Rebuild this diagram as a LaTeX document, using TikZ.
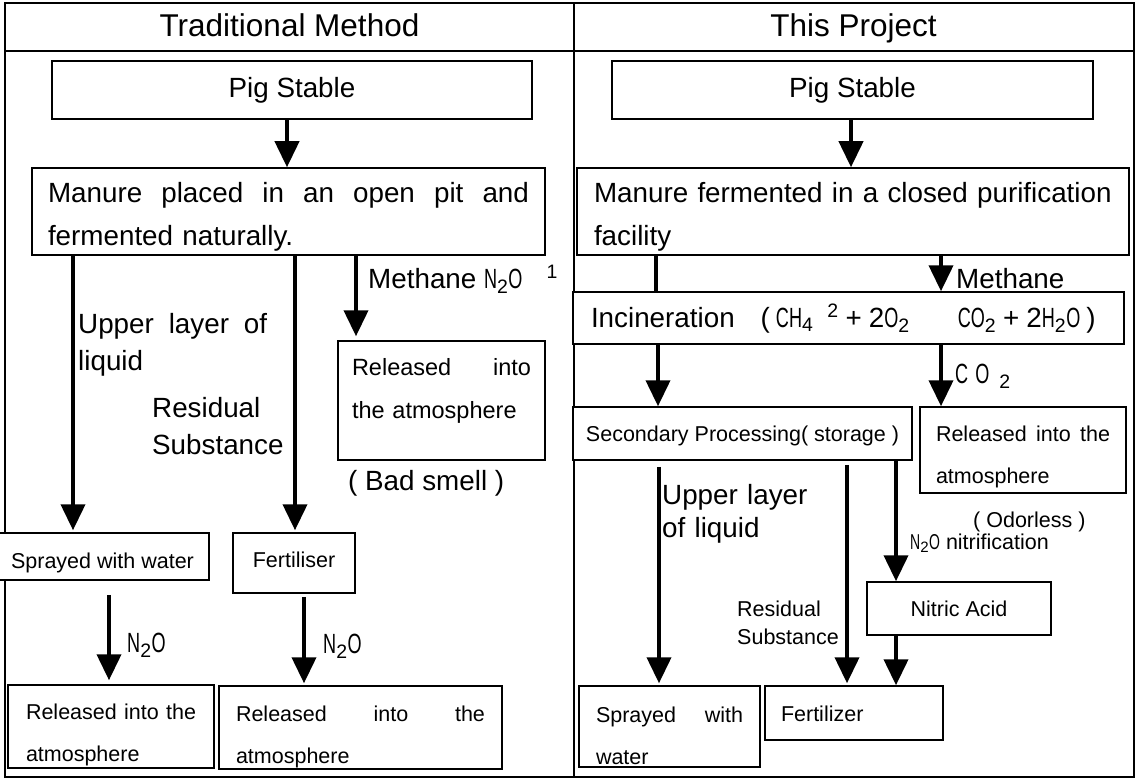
\documentclass[tikz,border=0pt]{standalone}
\usepackage{fontspec}
\setmainfont{Liberation Sans}
\usetikzlibrary{arrows.meta}
\newcommand{\chem}[1]{\scalebox{0.65}[1]{#1}}

\begin{document}
\begin{tikzpicture}[x=1pt, y=-1pt,
  box/.style={rectangle, draw, fill=white, line width=1.5pt, inner sep=0pt},
  lbl/.style={inner sep=0pt, anchor=base west},
  bigfont/.style={font=\fontsize{27.8}{#1}\selectfont}, bigfont/.default=43,
  midfont/.style={font=\fontsize{23.5}{#1}\selectfont}, midfont/.default=43,
  smallfont/.style={font=\fontsize{21.5}{#1}\selectfont}, smallfont/.default=42,
  tb/.style 2 args={text height=#1pt, text depth=#2pt},
  arr/.style={line width=4pt, -{Triangle[width=24pt, length=26pt]}},
  lin/.style={line width=4pt}]
  \useasboundingbox (0, 0) rectangle (1137, 778);

  \draw[line width=2pt] (5, 3) rectangle (1134, 777);
  \draw[line width=2pt] (5, 51) -- (1134, 51);
  \draw[line width=2pt] (574, 3) -- (574, 777);
  \node (lhead) [inner sep=0pt, anchor=base, font=\fontsize{31.5}{38}\selectfont] at (289.5, 37) {Traditional Method};
  \node (rhead) [inner sep=0pt, anchor=base, font=\fontsize{31.5}{38}\selectfont] at (853.5, 37) {This Project};

  \node (lstable) [box, bigfont, tb={18}{2}, minimum width=480pt, minimum height=58pt] at (292, 90) {Pig Stable};
  \node (lmanure) [box, bigfont, tb={5}{22}, minimum width=513pt, minimum height=87pt, text width=481pt, align=left] at (288.5, 211.5) {Manure\hfill placed\hfill in\hfill an\hfill open\hfill pit\hfill and\\fermented naturally.};
  \node (lair) [box, midfont, tb={5}{56}, minimum width=207pt, minimum height=119pt, text width=179pt, align=left] at (441.5, 400.5) {Released\hfill into\\the atmosphere};
  \node (lspray) [box, smallfont, tb={23}{0}, minimum width=213pt, minimum height=47pt] at (102.5, 556.5) {Sprayed with water};
  \node (lfert) [box, smallfont, tb={10}{2}, minimum width=122pt, minimum height=60pt] at (294, 563) {Fertiliser};
  \node (lairspray) [box, smallfont, tb={5}{20}, minimum width=206pt, minimum height=83pt, text width=170pt, align=left] at (111, 726.5) {Released\hfill into\hfill the\\atmosphere};
  \node (lairfert) [box, smallfont, tb={5}{18}, minimum width=283pt, minimum height=83pt, text width=249pt, align=left] at (360.5, 727.5) {Released\hfill into\hfill the\\atmosphere};

  \node (lgas) [lbl, bigfont] at (368, 288) {Methane \chem{N}\textsubscript{2}\chem{O}\hspace{24pt}\textsuperscript{1}};
  \node (lupper) [lbl, bigfont=37, text width=189pt, align=left] at (78, 333) {Upper\hfill layer\hfill of\\liquid};
  \node (lresid) [lbl, bigfont=37, text width=140pt, align=left] at (152, 417) {Residual\\Substance};
  \node (lsmell) [lbl, bigfont] at (348, 490) {( Bad smell )};
  \node (lno1) [lbl, bigfont] at (127, 652) {\chem{N}\textsubscript{2}\chem{O}};
  \node (lno2) [lbl, bigfont] at (323, 653) {\chem{N}\textsubscript{2}\chem{O}};

  \draw[arr] (lstable.south -| 287,0) to (lmanure.north -| 287,0);
  \draw[arr, shorten >=2pt] (lmanure.south -| 73,0) to (lspray.north -| 73,0);
  \draw[arr, shorten >=2pt] (lmanure.south -| 295,0) to (lfert.north -| 295,0);
  \draw[arr, shorten >=4pt] (lmanure.south -| 356,0) to (lair.north -| 356,0);
  \draw[arr, shorten <=14pt, shorten >=4pt] (lspray.south -| 109,0) to (lairspray.north -| 109,0);
  \draw[arr, shorten <=3pt, shorten >=2pt] (lfert.south -| 304,0) to (lairfert.north -| 304,0);

  \node (rstable) [box, bigfont, tb={18}{2}, minimum width=481pt, minimum height=58pt] at (852.5, 90) {Pig Stable};
  \node (rmanure) [box, bigfont, tb={5}{22}, minimum width=552pt, minimum height=87pt, text width=518pt, align=left] at (853, 211.5) {Manure fermented in a closed purification\\facility};
  \node (rburn) [box, bigfont, tb={20}{2}, minimum width=551pt, minimum height=52pt, text width=515pt, align=left] at (848.5, 318) {Incineration\hspace{26pt}(\hspace{6pt}\chem{CH}\textsubscript{4}\hspace{14pt}\textsuperscript{2}\hspace{7pt}+\hspace{7pt}2\chem{O}\textsubscript{2}\hspace{48pt}\chem{CO}\textsubscript{2}\hspace{7pt}+\hspace{7pt}2\chem{H}\textsubscript{2}\chem{O}\hspace{6pt})};
  \node (rsecond) [box, smallfont, tb={17}{2}, minimum width=339pt, minimum height=53pt] at (742.5, 433.5) {Secondary Processing( storage )};
  \node (rair) [box, smallfont, tb={5}{23}, minimum width=206pt, minimum height=86pt, text width=174pt, align=left] at (1023, 450) {Released\hfill into\hfill the\\atmosphere};
  \node (rnitric) [box, smallfont, tb={17}{2}, minimum width=184pt, minimum height=53pt] at (959, 608.5) {Nitric Acid};
  \node (rspray) [box, smallfont, tb={5}{14}, minimum width=181pt, minimum height=81pt, text width=147pt, align=left] at (669.5, 726.5) {Sprayed\hfill with\\water};
  \node (rfert) [box, smallfont, tb={18}{2}, minimum width=178pt, minimum height=54pt, text width=146pt, align=left] at (854, 713) {Fertilizer};

  \node (rgas) [lbl, bigfont] at (956, 288) {Methane};
  \node (rco) [lbl, bigfont] at (955, 383) {\chem{C}\hspace{7pt}\chem{O}\hspace{10pt}\textsubscript{2}};
  \node (rupper) [lbl, bigfont=33, text width=160pt, align=left] at (662, 504) {Upper layer\\of liquid};
  \node (rresid) [lbl, smallfont=28, text width=110pt, align=left] at (737, 616) {Residual\\Substance};
  \node (rodor) [lbl, smallfont] at (973, 527) {( Odorless )};
  \node (rnitri) [lbl, smallfont] at (910, 549) {\chem{N}\textsubscript{2}\chem{O} nitrification};

  \draw[arr] (rstable.south -| 851,0) to (rmanure.north -| 851,0);
  \draw[lin] (rmanure.south -| 656,0) to (rburn.north -| 656,0);
  \draw[arr] (rmanure.south -| 941,0) to (rburn.north -| 941,0);
  \draw[arr] (rburn.south -| 658,0) to (rsecond.north -| 658,0);
  \draw[arr] (rburn.south -| 941,0) to (rair.north -| 941,0);
  \draw[arr, shorten <=6pt, shorten >=2pt] (rsecond.south -| 659,0) to (rspray.north -| 659,0);
  \draw[arr, shorten <=4pt, shorten >=2pt] (rsecond.south -| 847,0) to (rfert.north -| 847,0);
  \draw[arr] (rsecond.south -| 896,0) to (rnitric.north -| 896,0);
  \draw[arr] (rnitric.south -| 896,0) to (rfert.north -| 896,0);
\end{tikzpicture}
\end{document}
